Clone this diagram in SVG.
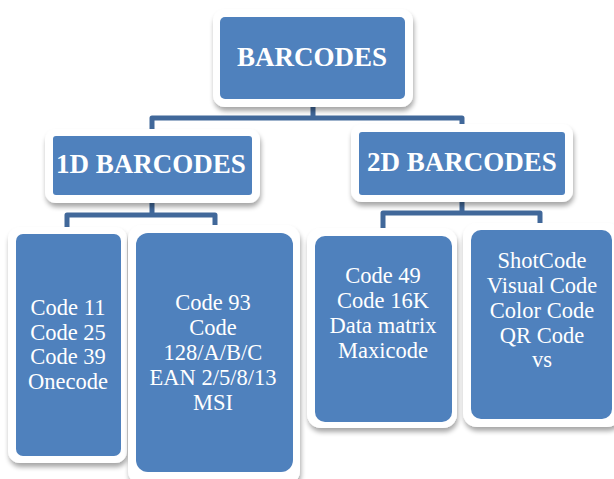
<svg xmlns="http://www.w3.org/2000/svg" width="614" height="479" viewBox="0 0 614 479">
<defs>
<filter id="sh" x="-10%" y="-10%" width="120%" height="130%">
<feGaussianBlur in="SourceAlpha" stdDeviation="2.5"/>
<feOffset dx="1" dy="4" result="b"/>
<feComponentTransfer><feFuncA type="linear" slope="0.35"/></feComponentTransfer>
<feMerge><feMergeNode/><feMergeNode in="SourceGraphic"/></feMerge>
</filter>
</defs>
<style>
.frame{fill:#ffffff;filter:url(#sh)}
.box{fill:#4F81BD}
.t{fill:#ffffff;text-anchor:middle}
.h{font-weight:bold;font-size:27px}
.b{font-size:22.5px}
.c{fill:none;stroke:#41689A;stroke-width:5;stroke-linejoin:round}
</style>
<rect width="614" height="479" fill="#ffffff"/>
<g id="connectors">
<path class="c" d="M313 104 V118 M152 130 V118 H462 V126"/>
<path class="c" d="M152 200 V215 M67 227 V215 H215 V228"/>
<path class="c" d="M462 199 V213 M383 230 V213 H540 V224"/>
</g>
<g font-family="'Liberation Serif', 'Times New Roman', 'DejaVu Serif', serif">
<g id="n-barcodes">
<rect class="frame" x="213" y="9" width="200" height="98" rx="12"/>
<rect class="box" x="220" y="17" width="185" height="82" rx="5"/>
<text class="t h" x="312" y="66">BARCODES</text>
</g>
<g id="n-1d">
<rect class="frame" x="45" y="129" width="215" height="74" rx="11"/>
<rect class="box" x="53" y="136" width="199" height="59" rx="3"/>
<text class="t h" x="151" y="173">1D BARCODES</text>
</g>
<g id="n-2d">
<rect class="frame" x="351" y="124" width="222" height="78" rx="11"/>
<rect class="box" x="359" y="132" width="206" height="63" rx="3"/>
<text class="t h" x="462" y="171">2D BARCODES</text>
</g>
<g id="n-1d-a">
<rect class="frame" x="8" y="227" width="119" height="236" rx="12"/>
<rect class="box" x="16" y="234" width="105" height="222" rx="7"/>
<text class="t b" x="68" y="315">Code 11</text>
<text class="t b" x="68" y="339.5">Code 25</text>
<text class="t b" x="68" y="364">Code 39</text>
<text class="t b" x="68" y="389">Onecode</text>
</g>
<g id="n-1d-b">
<rect class="frame" x="128" y="225" width="172" height="260" rx="14"/>
<rect class="box" x="136" y="233" width="157" height="239" rx="12"/>
<text class="t b" x="213" y="310">Code 93</text>
<text class="t b" x="213" y="335">Code</text>
<text class="t b" x="213" y="360">128/A/B/C</text>
<text class="t b" x="213" y="385">EAN 2/5/8/13</text>
<text class="t b" x="213" y="410">MSI</text>
</g>
<g id="n-2d-a">
<rect class="frame" x="307" y="228" width="150" height="200" rx="14"/>
<rect class="box" x="315" y="236" width="137" height="186" rx="10"/>
<text class="t b" x="383" y="283">Code 49</text>
<text class="t b" x="383" y="308">Code 16K</text>
<text class="t b" x="383" y="333">Data matrix</text>
<text class="t b" x="383" y="358">Maxicode</text>
</g>
<g id="n-2d-b">
<rect class="frame" x="463" y="223" width="158" height="204" rx="14"/>
<rect class="box" x="471" y="230" width="141" height="189" rx="10"/>
<text class="t b" x="542" y="268">ShotCode</text>
<text class="t b" x="542" y="293">Visual Code</text>
<text class="t b" x="542" y="318">Color Code</text>
<text class="t b" x="542" y="343">QR Code</text>
<text class="t b" x="542" y="367">vs</text>
</g>
</g>
</svg>
